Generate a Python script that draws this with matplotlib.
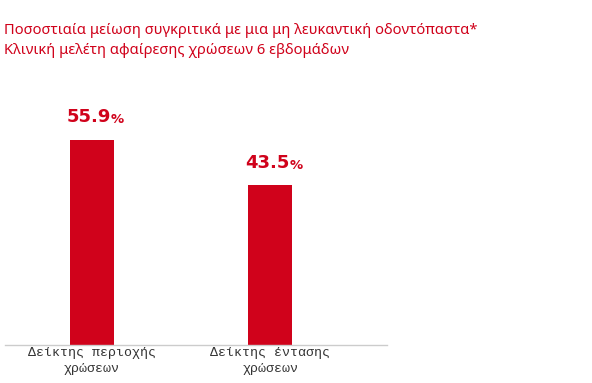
import matplotlib
matplotlib.use("Agg")
import matplotlib.pyplot as plt

categories = ["Δείκτης περιοχής\nχρώσεων", "Δείκτης έντασης\nχρώσεων"]
values = [55.9, 43.5]
title_lines = ["Ποσοστιαία μείωση συγκριτικά με μια μη λευκαντική οδοντόπαστα*",
               "Κλινική μελέτη αφαίρεσης χρώσεων 6 εβδομάδων"]

RED = "#D0021B"
W, H = 592, 383
fig = plt.figure(figsize=(W / 100, H / 100), dpi=100)

# axes placed in pixel coordinates
ax_left, ax_right = 5, 387
ax_bottom, ax_top = 345, 88
ax = fig.add_axes([ax_left / W, 1 - ax_bottom / H, (ax_right - ax_left) / W, (ax_bottom - ax_top) / H])

x = list(range(len(categories)))
ax.bar(x, values, width=0.247, color=RED)
ax.set_xlim(-0.487, 1.653)
ax.set_ylim(0, (ax_bottom - ax_top) / 3.667)

for s in ["top", "right", "left"]:
    ax.spines[s].set_visible(False)
ax.spines["bottom"].set_color("#cccccc")
ax.spines["bottom"].set_linewidth(1)
ax.set_yticks([])
ax.set_xticks(x)
ax.set_xticklabels(categories, family="Liberation Mono", fontsize=9.5, color="#333333",
                   linespacing=1.45)
ax.tick_params(axis="x", length=0, pad=1.5)

for xi, v in zip(x, values):
    t = ax.annotate(f"{v:.1f}", (xi, v), xytext=(-2, 10), textcoords="offset points",
                    ha="center", va="bottom", fontsize=13, fontweight="bold", color=RED,
                    family="DejaVu Sans")
    ax.annotate("%", xy=(1, 0), xycoords=t, xytext=(-0.5, 0), textcoords="offset points",
                ha="left", va="bottom", fontsize=9.5, fontweight="bold", color=RED,
                family="DejaVu Sans")

fig.text(4 / W, 1 - 30 / H, title_lines[0], fontsize=10.6, color=RED, family="Noto Sans",
         fontweight="light", va="center", ha="left")
fig.text(4 / W, 1 - 50 / H, title_lines[1], fontsize=10.6, color=RED, family="Noto Sans",
         fontweight="light", va="center", ha="left")

fig.savefig("out.png", dpi=100)
